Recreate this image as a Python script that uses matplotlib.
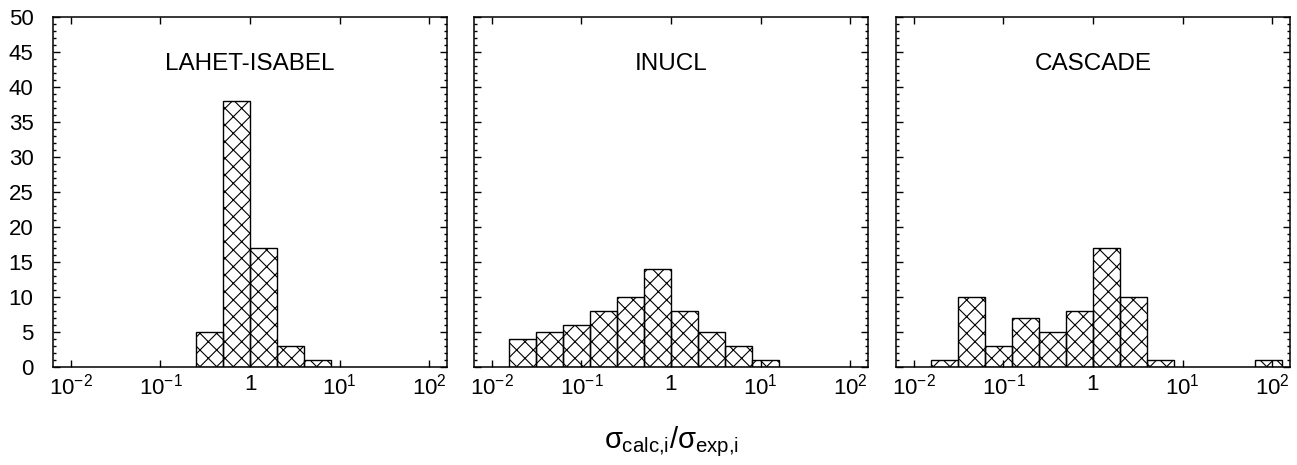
import numpy as np
import matplotlib
matplotlib.use("Agg")
import matplotlib.pyplot as plt
from matplotlib.ticker import FixedLocator, FuncFormatter, MultipleLocator

# Arial-like fonts everywhere, also inside mathtext
plt.rcParams['font.family'] = ['Liberation Sans', 'DejaVu Sans']
plt.rcParams['mathtext.fontset'] = 'custom'
plt.rcParams['mathtext.rm'] = 'Liberation Sans'
plt.rcParams['mathtext.it'] = 'Liberation Sans'
plt.rcParams['mathtext.bf'] = 'Liberation Sans:bold'
plt.rcParams['hatch.linewidth'] = 0.8

# histogram data: bin edges (sigma_calc/sigma_exp) and counts per bin
lahet_edges = [1/4, 1/2, 1, 2, 4, 8]
lahet_counts = [5, 38, 17, 3, 1]

inucl_edges = [1/64, 1/32, 1/16, 1/8, 1/4, 1/2, 1, 2, 4, 8, 16]
inucl_counts = [4, 5, 6, 8, 10, 14, 8, 5, 3, 1]

cascade_edges = [1/64, 1/32, 1/16, 1/8, 1/4, 1/2, 1, 2, 4, 8, 16, 32, 64, 128]
cascade_counts = [1, 10, 3, 7, 5, 8, 17, 10, 1, 0, 0, 0, 1]

panels = [("LAHET-ISABEL", lahet_edges, lahet_counts),
          ("INUCL", inucl_edges, inucl_counts),
          ("CASCADE", cascade_edges, cascade_counts)]

W, H = 1297, 465
fig = plt.figure(figsize=(W / 100, H / 100), dpi=100)
lefts = [53, 474, 896]


def xfmt(v, pos):
    e = int(round(np.log10(v)))
    if e == 0:
        return "1"
    return r"$\mathregular{10^{%d}}$" % e


for i, (name, edges, counts) in enumerate(panels):
    ax = fig.add_axes([lefts[i] / W, 1 - 367 / H, 394 / W, 350 / H])
    edges = np.array(edges)
    counts = np.array(counts)
    keep = counts > 0
    ax.bar(edges[:-1][keep], counts[keep], width=np.diff(edges)[keep], align='edge',
           fill=False, hatch='xx', edgecolor='black', linewidth=1.0)
    ax.set_xscale('log')
    ax.set_xlim(10 ** -2.2, 10 ** 2.2)
    ax.set_ylim(0, 50)
    ax.xaxis.set_major_locator(FixedLocator([1e-2, 1e-1, 1, 10, 100]))
    ax.xaxis.set_minor_locator(FixedLocator([]))
    ax.xaxis.set_major_formatter(FuncFormatter(xfmt))
    ax.yaxis.set_major_locator(MultipleLocator(5))
    ax.yaxis.set_minor_locator(MultipleLocator(1))
    ax.tick_params(which='both', direction='in', top=True, right=True, width=1.0)
    ax.tick_params(which='major', length=5)
    ax.tick_params(which='minor', length=2.5)
    ax.tick_params(axis='x', labelsize=16, pad=5)
    ax.tick_params(axis='y', labelsize=16, pad=14)
    if i > 0:
        ax.tick_params(axis='y', labelleft=False)
    for sp in ax.spines.values():
        sp.set_linewidth(1.1)
    ax.text(0.5, 0.865, name, transform=ax.transAxes, ha='center', va='center', fontsize=17.5)

fig.text(671 / W, 1 - 442 / H, r"$\sigma_{\mathregular{calc{,}i}}/\sigma_{\mathregular{exp{,}i}}$",
         ha='center', va='center', fontsize=21)

fig.savefig("out.png", dpi=100)
